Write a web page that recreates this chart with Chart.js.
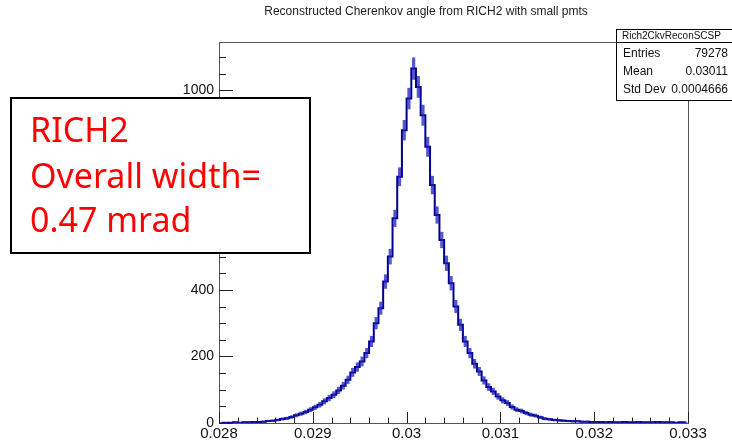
<!DOCTYPE html>
<html lang="en">
<head>
    <meta charset="UTF-8">
    <title>Reconstructed Cherenkov angle from RICH2 with small pmts</title>
    <script src="https://cdn.jsdelivr.net/npm/chart.js"></script>
    <style>
        html, body { margin: 0; padding: 0; background: #fff; }
        canvas { display: block; }
    </style>
</head>
<body>
    <canvas id="ckvChart" width="732" height="446"></canvas>
    <script>
        // histogram: 100 bins of width 0.00005 from 0.028 to 0.033 (counts)
        const binLow = 0.028;
        const binWidth = 0.00005;
        const counts = [
            1, 1, 1, 2, 1, 2, 2, 3, 3, 4,
            6, 7, 9, 12, 14, 18, 23, 28, 33, 40,
            47, 55, 65, 75, 85, 98, 112, 130, 152, 168,
            185, 210, 245, 300, 345, 425, 500, 615, 740, 880,
            975, 1065, 1010, 925, 830, 715, 625, 550, 480, 420,
            350, 295, 245, 210, 178, 155, 128, 108, 95, 80,
            68, 60, 48, 40, 36, 30, 25, 22, 17, 13,
            11, 9, 8, 7, 6, 5, 5, 4, 4, 3,
            3, 3, 2, 3, 2, 2, 3, 2, 2, 3,
            2, 2, 2, 3, 2, 2, 2, 1, 2, 2
        ];
        const xTicks = [0.028, 0.029, 0.03, 0.031, 0.032, 0.033];
        const xTickLabels = ['0.028', '0.029', '0.03', '0.031', '0.032', '0.033'];
        const yTicks = [0, 200, 400, 600, 800, 1000];
        const statNames = ['Entries', 'Mean', 'Std Dev'];
        const statValues = ['79278', '0.03011', '0.0004666'];
        const histName = 'Rich2CkvReconSCSP';
        const noteLines = ['RICH2', 'Overall width=', '0.47 mrad'];

        const blue = 'rgb(0, 0, 140)';
        const centers = counts.map((c, i) => binLow + binWidth * (i + 0.5));
        const points = counts.map((c, i) => ({ x: centers[i], y: c }));
        // Poisson error bars, as ROOT draws them
        const errBars = counts.map((c, i) => ({ x: centers[i], y: [c - Math.sqrt(c), c + Math.sqrt(c)] }));

        const rootStyle = {
            id: 'rootStyle',
            afterDraw(chart) {
                const ctx = chart.ctx;
                const a = chart.chartArea;
                const xs = chart.scales.x, ys = chart.scales.y;
                ctx.save();

                // frame
                ctx.strokeStyle = '#555';
                ctx.lineWidth = 1;
                ctx.strokeRect(a.left + 0.5, a.top + 0.5, a.right - a.left, a.bottom - a.top);

                // y ticks (major every 200, minor every 50)
                ctx.strokeStyle = '#222';
                ctx.beginPath();
                for (let v = 0; v <= ys.max; v += 50) {
                    const py = Math.round(ys.getPixelForValue(v)) + 0.5;
                    const len = (v % 200 === 0) ? 14 : 7;
                    ctx.moveTo(a.left, py);
                    ctx.lineTo(a.left + len, py);
                }
                // x ticks (major every 0.001, minor every 0.0002)
                for (let k = 0; k <= 25; k++) {
                    const v = 0.028 + k * 0.0002;
                    const px = Math.round(xs.getPixelForValue(v)) + 0.5;
                    const len = (k % 5 === 0) ? 11 : 5.5;
                    ctx.moveTo(px, a.bottom);
                    ctx.lineTo(px, a.bottom - len);
                }
                ctx.stroke();

                // title
                ctx.fillStyle = '#222';
                ctx.font = '12px "Liberation Sans", Arial, sans-serif';
                ctx.textAlign = 'center';
                ctx.textBaseline = 'alphabetic';
                ctx.fillText('Reconstructed Cherenkov angle from RICH2 with small pmts', 426, 15);

                // stats box
                ctx.fillStyle = '#fff';
                ctx.fillRect(616, 29, 130, 71);
                ctx.strokeStyle = '#000';
                ctx.strokeRect(616.5, 29.5, 130, 71);
                ctx.beginPath();
                ctx.moveTo(616, 42.5);
                ctx.lineTo(732, 42.5);
                ctx.stroke();
                ctx.fillStyle = '#111';
                ctx.textAlign = 'left';
                ctx.font = '10px "Liberation Sans", Arial, sans-serif';
                ctx.fillText(histName, 622, 39);
                ctx.font = '12px "Liberation Sans", Arial, sans-serif';
                const rowY = [57, 75, 93];
                statNames.forEach((n, i) => {
                    ctx.textAlign = 'left';
                    ctx.fillText(n, 623, rowY[i]);
                    ctx.textAlign = 'right';
                    ctx.fillText(statValues[i], 728, rowY[i]);
                });

                // annotation box
                ctx.fillStyle = '#fff';
                ctx.fillRect(11, 98, 299, 155);
                ctx.strokeStyle = '#000';
                ctx.lineWidth = 2;
                ctx.strokeRect(11, 98, 299, 155);
                ctx.fillStyle = '#ff0000';
                ctx.textAlign = 'left';
                ctx.font = '34px "Noto Sans", "Open Sans", sans-serif';
                const noteY = [142, 188, 232];
                noteLines.forEach((t, i) => ctx.fillText(t, 30, noteY[i]));

                ctx.restore();
            }
        };

        new Chart(document.getElementById('ckvChart'), {
            type: 'bar',
            data: {
                datasets: [{
                    type: 'bar',
                    data: errBars,
                    backgroundColor: 'rgba(30, 30, 190, 0.75)',
                    barThickness: 2.5
                }, {
                    type: 'line',
                    data: points,
                    borderColor: blue,
                    borderWidth: 2,
                    pointRadius: 0,
                    stepped: 'middle',
                    fill: false
                }]
            },
            options: {
                responsive: false,
                animation: false,
                devicePixelRatio: 1,
                layout: { padding: { top: 42, right: 44, left: 0, bottom: 0 } },
                plugins: { legend: { display: false }, tooltip: { enabled: false } },
                scales: {
                    x: {
                        type: 'linear',
                        min: 0.028,
                        max: 0.033,
                        offset: false,
                        grid: { display: false, drawTicks: false },
                        border: { display: false },
                        afterBuildTicks: s => { s.ticks = xTicks.map(v => ({ value: v })); },
                        afterFit: s => { s.height = 23; },
                        ticks: {
                            autoSkip: false,
                            maxRotation: 0,
                            padding: 2,
                            color: '#111',
                            font: { family: '"Liberation Sans", Arial', size: 15 },
                            callback: (v, i) => xTickLabels[i]
                        }
                    },
                    y: {
                        min: 0,
                        max: 1145,
                        grid: { display: false, drawTicks: false },
                        border: { display: false },
                        afterBuildTicks: s => { s.ticks = yTicks.map(v => ({ value: v })); },
                        afterFit: s => { s.width = 219; },
                        ticks: {
                            padding: 5,
                            color: '#111',
                            font: { family: '"Liberation Sans", Arial', size: 14 },
                            callback: v => String(v)
                        }
                    }
                }
            },
            plugins: [rootStyle]
        });
    </script>
</body>
</html>
